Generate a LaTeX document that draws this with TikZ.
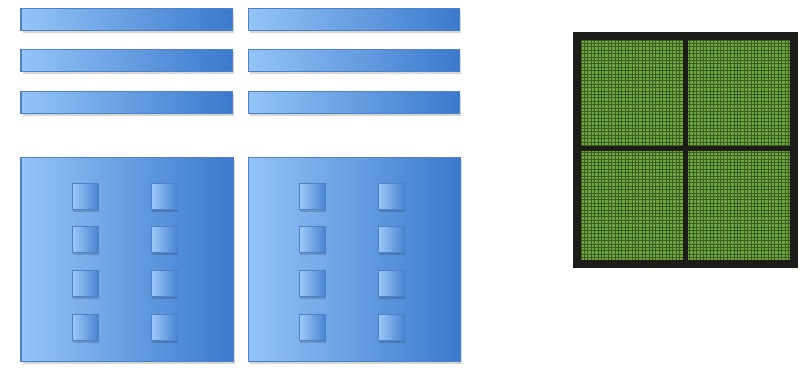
\documentclass[tikz,border=0pt]{standalone}
\usetikzlibrary{positioning}
\definecolor{blueL}{RGB}{148,196,248}
\definecolor{blueR}{RGB}{58,122,204}
\definecolor{blueEdge}{RGB}{78,128,196}
\definecolor{chipGreen}{RGB}{112,168,62}
\definecolor{chipLine}{RGB}{58,92,34}
\definecolor{chipFrame}{RGB}{28,28,24}

\begin{document}
\begin{tikzpicture}[x=0.5pt,y=-0.5pt,
  bluebox/.style={draw=blueEdge, line width=0.5pt, left color=blueL, right color=blueR},
  cellbox/.style={draw=blueEdge, line width=0.4pt, left color=blueL!90!white, right color=blueR!85!blueL},
  shadowbox/.style={fill=black, opacity=0.16},
  gridline/.style={draw=chipLine, line width=0.38pt}]
\useasboundingbox (0,0) rectangle (811,371);

% rows of bars
\foreach \x in {21,248}
  \foreach \y in {8,49,91} {
    \fill[shadowbox] (\x+2,\y+3) rectangle ++(211,22);
    \path[bluebox] (\x,\y) rectangle ++(211,22);
  }

% two blocks with small cells
\foreach \x in {21,248} {
  \fill[shadowbox] (\x+2,160) rectangle ++(212,204);
  \path[bluebox] (\x,157) rectangle ++(212,204);
  \foreach \dx in {51,130}
    \foreach \y in {183,226,270,314} {
      \fill[shadowbox] (\x+\dx+1,\y+3) rectangle ++(26,26);
      \path[cellbox] (\x+\dx,\y) rectangle ++(26,26);
    }
}

% chip with fine grid
\fill[chipFrame] (573,32) rectangle (798,268);
\fill[chipGreen] (581,40) rectangle (790,260);
\begin{scope}
  \clip (581,40) rectangle (790,260);
  \foreach \i in {0,...,62}
    \path[gridline] (581+3.4*\i,40) -- (581+3.4*\i,260);
  \foreach \j in {0,...,65}
    \path[gridline] (581,40+3.4*\j) -- (790,40+3.4*\j);
\end{scope}
\fill[chipFrame] (683,40) rectangle (688,260);
\fill[chipFrame] (581,146) rectangle (790,151);
\end{tikzpicture}
\end{document}
